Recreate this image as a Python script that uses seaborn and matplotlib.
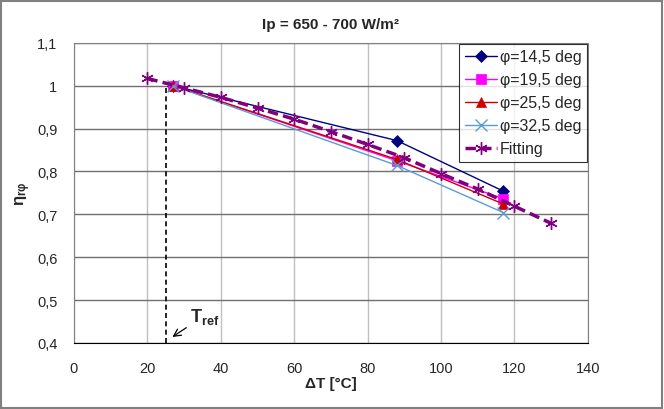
import matplotlib
matplotlib.use("Agg")
import matplotlib.pyplot as plt
import seaborn as sns
import pandas as pd
from matplotlib.ticker import FuncFormatter, MultipleLocator
from matplotlib.patches import Rectangle

# DATA
dT_meas = [27, 88, 117]
eta_14 = [1.000, 0.872, 0.754]
eta_19 = [1.000, 0.825, 0.736]
eta_25 = [1.000, 0.828, 0.724]
eta_32 = [1.000, 0.814, 0.704]
series_labels = ["φ=14,5 deg", "φ=19,5 deg", "φ=25,5 deg", "φ=32,5 deg"]

dT_fit = [20, 30, 40, 50, 60, 70, 80, 90, 100, 110, 120, 130]
eta_fit = [1.017, 0.995, 0.973, 0.948, 0.922, 0.893, 0.863, 0.832, 0.795, 0.759, 0.719, 0.679]

T_REF = 25
ETA_REF = 1.0

sns.set_style("white")
plt.rcParams['font.family'] = ['Liberation Sans', 'DejaVu Sans']
plt.rcParams['mathtext.fontset'] = 'custom'
plt.rcParams['mathtext.rm'] = 'Liberation Sans'
plt.rcParams['mathtext.it'] = 'Liberation Sans:italic'
plt.rcParams['mathtext.bf'] = 'Liberation Sans:bold'

fig = plt.figure(figsize=(6.64, 4.10), dpi=100)
ax = fig.add_axes([0.1114, 0.161, 0.774, 0.732])

styles = [
    dict(color="#000080", marker="D", markersize=6),
    dict(color="#FF00FF", marker="s", markersize=7),
    dict(color="#CC0000", marker="^", markersize=7),
    dict(color="#5B9BD5", marker="x", markersize=8, markeredgewidth=1.0),
]
for vals, lab, st in zip([eta_14, eta_19, eta_25, eta_32], series_labels, styles):
    df = pd.DataFrame({"dT": dT_meas, "eta": vals})
    sns.lineplot(data=df, x="dT", y="eta", ax=ax, label=lab, linewidth=1.0,
                 color=st["color"], marker=st["marker"], markersize=st["markersize"],
                 markeredgecolor=st["color"], markeredgewidth=st.get("markeredgewidth", 0.5))

df_fit = pd.DataFrame({"dT": dT_fit, "eta": eta_fit})
sns.lineplot(data=df_fit, x="dT", y="eta", ax=ax, label="Fitting", color="#800080",
             linewidth=2.5, linestyle=(0, (3, 1.5)), marker=(6, 2, 0), markersize=9,
             markeredgecolor="#800080", markeredgewidth=1.0)

# reference temperature marker
ax.vlines(T_REF, 0.4, ETA_REF, colors="black", linestyles=(0, (3, 2)), linewidth=1.2, zorder=1)
ax.annotate(r"$\mathbf{T}_{\mathbf{ref}}$", xy=(T_REF + 1.8, 0.414), xytext=(31.5, 0.452),
            fontsize=13, arrowprops=dict(arrowstyle="->", color="black", lw=0.9,
                                         shrinkA=0, shrinkB=0))

ax.set_xlim(0, 140)
ax.set_ylim(0.4, 1.1)
ax.xaxis.set_major_locator(MultipleLocator(20))
ax.yaxis.set_major_locator(MultipleLocator(0.1))
comma = FuncFormatter(lambda v, p: ("%g" % round(v, 2)).replace(".", ","))
ax.xaxis.set_major_formatter(comma)
ax.yaxis.set_major_formatter(comma)
ax.tick_params(labelsize=10.5, length=4, direction="out", color="#808080")
ax.tick_params(axis="x", pad=9)
ax.tick_params(axis="y", pad=8)

ax.grid(axis="y", color="#707070", linewidth=1.0)
ax.grid(axis="x", color="#C0C0C0", linewidth=1.0)
ax.set_axisbelow(True)
for side in ["top", "right", "left"]:
    ax.spines[side].set_visible(True)
    ax.spines[side].set_color("#808080")
ax.spines["bottom"].set_color("black")

ax.set_title("Ip = 650 - 700 W/m²", fontsize=11, fontweight="bold", pad=11)
ax.set_xlabel("ΔT [°C]", fontsize=11, fontweight="bold", labelpad=1)
ax.set_ylabel(r"$\mathbf{η}_{\mathbf{rφ}}$", fontsize=12, labelpad=3)

leg = ax.legend(loc="upper right", fontsize=11.5, frameon=True, fancybox=False,
                borderaxespad=0.05, handlelength=2.0, labelspacing=0.5, borderpad=0.35,
                handletextpad=0.2)
leg.get_frame().set_edgecolor("black")
leg.get_frame().set_linewidth(0.8)

fig.patches.append(Rectangle((0.002, 0.003), 0.995, 0.993, transform=fig.transFigure,
                             fill=False, edgecolor="#808080", linewidth=1.5))

fig.savefig("out.png", dpi=100)
